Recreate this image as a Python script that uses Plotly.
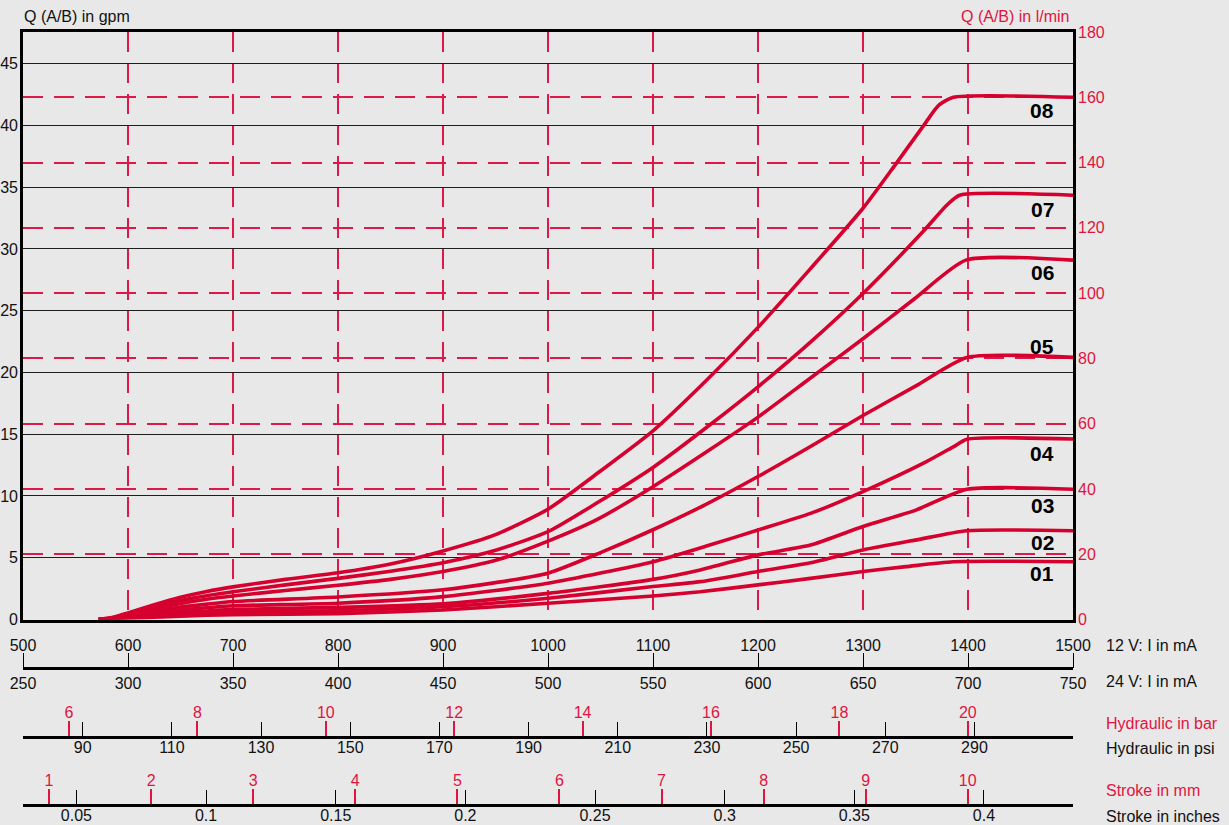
import plotly.graph_objects as go

# Canvas and margins (px)
W, H = 1229, 825
ML, MR, MT, MB = 23, 156, 32, 0

FONT = "Liberation Sans, Arial, Helvetica, sans-serif"
RED = "#d6002f"
RED_TXT = "#e0143f"
RED_GRID = "#de1848"
BG = "#e8e8e8"

# ---- flow curves: 12 V coil current (mA) vs flow Q (l/min) ----
i_01 = [572, 585, 600, 625, 650, 675, 700, 800, 900, 1000, 1100, 1145, 1200, 1250, 1300, 1341, 1386, 1500]
q_01 = [0, 0.1, 0.3, 0.7, 1.0, 1.3, 1.5, 1.8, 2.9, 5.0, 7.2, 8.5, 10.6, 12.6, 14.7, 16.2, 17.7, 17.7]

i_02 = [572, 585, 600, 625, 650, 675, 700, 800, 900, 1000, 1100, 1145, 1200, 1250, 1300, 1351, 1399, 1500]
q_02 = [0, 0.15, 0.5, 1.05, 1.6, 2.0, 2.3, 2.7, 3.9, 6.5, 10.1, 11.6, 14.7, 17.4, 21.3, 24.4, 27.2, 27.2]

i_03 = [572, 585, 600, 625, 650, 675, 700, 800, 900, 1000, 1100, 1145, 1200, 1250, 1300, 1351, 1399, 1500]
q_03 = [0, 0.2, 0.6, 1.4, 2.1, 2.6, 3.1, 3.7, 4.8, 8.0, 12.3, 15.2, 19.8, 22.8, 28.5, 33.6, 39.9, 39.9]

i_04 = [572, 585, 600, 625, 650, 675, 700, 800, 900, 1000, 1100, 1154, 1200, 1250, 1300, 1360, 1386, 1399, 1500]
q_04 = [0, 0.25, 0.85, 1.9, 2.9, 3.6, 4.2, 5.0, 7.0, 11.1, 17.7, 22.8, 27.4, 32.5, 39.2, 48.3, 52.9, 55.2, 55.3]

i_05 = [572, 585, 600, 625, 650, 675, 700, 800, 900, 950, 1000, 1050, 1100, 1150, 1200, 1250, 1300, 1350, 1399, 1500]
q_05 = [0, 0.3, 1.1, 2.5, 3.8, 4.7, 5.5, 6.9, 9.1, 11.3, 14.2, 20.5, 27.5, 35.2, 43.8, 53.0, 62.5, 71.5, 80.3, 80.3]

i_06 = [572, 585, 600, 625, 650, 675, 700, 750, 800, 850, 900, 951, 1000, 1046, 1100, 1154, 1200, 1250, 1300, 1350, 1398, 1500]
q_06 = [0, 0.4, 1.4, 3.2, 4.9, 6.2, 7.2, 8.9, 10.5, 12.3, 14.7, 18.2, 24.0, 30.5, 40.7, 52.0, 62.0, 74.0, 86.0, 98.5, 110.1, 110.1]

i_07 = [572, 585, 600, 625, 650, 675, 700, 750, 800, 850, 900, 951, 1000, 1046, 1100, 1154, 1200, 1250, 1300, 1357, 1380, 1392, 1500]
q_07 = [0, 0.5, 1.7, 3.8, 5.8, 7.3, 8.5, 10.6, 12.6, 14.8, 17.4, 21.3, 26.9, 35.6, 46.6, 59.6, 71.3, 85.0, 99.9, 118.8, 127.0, 130.0, 130.0]

i_08 = [572, 585, 600, 625, 650, 675, 700, 750, 800, 850, 900, 950, 1000, 1050, 1100, 1150, 1200, 1250, 1300, 1330, 1357, 1372, 1386, 1500]
q_08 = [0, 0.6, 2.0, 4.5, 6.8, 8.6, 10.0, 12.3, 14.3, 17.0, 21.0, 26.0, 33.8, 45.5, 57.8, 73.0, 89.5, 107.5, 126.0, 139.0, 151.0, 157.5, 160.0, 160.0]

curves = [
    ("01", i_01, q_01, -12),
    ("02", i_02, q_02, -12),
    ("03", i_03, q_03, -16),
    ("04", i_04, q_04, -14),
    ("05", i_05, q_05, 11),
    ("06", i_06, q_06, -12),
    ("07", i_07, q_07, -14),
    ("08", i_08, q_08, -13),
]

# ---- scales ----
i12_ticks = list(range(500, 1501, 100))      # 12 V current, mA
i24_ticks = list(range(250, 751, 50))        # 24 V current, mA
bar_ticks = list(range(6, 21, 2))            # hydraulic pilot, bar
psi_ticks = list(range(90, 291, 20))         # hydraulic pilot, psi
mm_ticks = list(range(1, 11))                # stroke, mm
inch_ticks = [0.05, 0.1, 0.15, 0.2, 0.25, 0.3, 0.35, 0.4]
inch_text = ["0.05", "0.1", "0.15", "0.2", "0.25", "0.3", "0.35", "0.4"]
gpm_ticks = list(range(0, 46, 5))
lpm_ticks = list(range(0, 181, 20))

PW = W - ML - MR
PH = H - MT - MB


def px_x(x):
    return (x - ML) / PW


def px_y(y):
    return (H - MB - y) / PH


fig = go.Figure()

for name, xs, ys, _ in curves:
    fig.add_trace(go.Scatter(
        x=xs, y=ys, mode="lines", name=name,
        line=dict(color=RED, width=3.6, shape="spline", smoothing=0.6),
        xaxis="x", yaxis="y2", hoverinfo="skip", showlegend=False,
    ))

# empty carriers so every scale axis gets drawn
scale_axes = {
    "x2": (500, 1500), "x3": (250, 750), "x4": (5.2835, 21.639),
    "x5": (76.61, 312.1), "x6": (0.745, 11.031), "x7": (0.02941, 0.43433),
}
for ax, rng in scale_axes.items():
    fig.add_trace(go.Scatter(x=list(rng), y=[None, None], mode="lines",
                             xaxis=ax, yaxis="y", hoverinfo="skip",
                             showlegend=False))
fig.add_trace(go.Scatter(x=[500, 1500], y=[None, None], mode="lines",
                         xaxis="x", yaxis="y", hoverinfo="skip",
                         showlegend=False))

plot_bottom = px_y(619.5)
pos_i = px_y(668.3)
pos_hyd = px_y(736.7)
pos_stroke = px_y(805.0)

black_font = dict(family=FONT, size=16, color="#111111")
red_font = dict(family=FONT, size=16, color=RED_TXT)

scale_common = dict(overlaying="x", anchor="free", showgrid=False,
                    zeroline=False, fixedrange=True)

fig.update_layout(
    width=W, height=H,
    margin=dict(l=ML, r=MR, t=MT, b=MB, autoexpand=False),
    paper_bgcolor=BG, plot_bgcolor=BG,
    font=dict(family=FONT, size=16, color="#111111"),
    showlegend=False,
    xaxis=dict(
        range=[500, 1500], tickvals=i12_ticks, showticklabels=False,
        ticks="", showgrid=True, gridcolor=RED_GRID, gridwidth=1.5,
        griddash="20px,11px", zeroline=False,
        showline=True, mirror=True, linecolor="#000000", linewidth=2.6,
        domain=[0, 1], fixedrange=True,
    ),
    yaxis=dict(
        range=[0, 47.56], tickvals=gpm_ticks, ticks="",
        showgrid=True, gridcolor="#1e1e1e", gridwidth=1.2, zeroline=False,
        showline=True, mirror=True, linecolor="#000000", linewidth=2.6,
        tickfont=black_font, ticklabelstandoff=-1,
        domain=[plot_bottom, 1], fixedrange=True,
    ),
    yaxis2=dict(
        range=[0, 180], tickvals=lpm_ticks, ticks="", overlaying="y",
        side="right", showgrid=True, gridcolor=RED_GRID, gridwidth=1.5,
        griddash="20px,11px", zeroline=False, showline=False,
        tickfont=red_font, ticklabelstandoff=4, fixedrange=True,
    ),
    # 12 V current scale (labels above) and 24 V current scale (labels below)
    xaxis2=dict(
        **scale_common, position=pos_i, side="top", range=[500, 1500],
        tickvals=i12_ticks, ticks="outside", ticklen=15, tickwidth=1.4,
        tickcolor="#000000", showline=True, linecolor="#000000",
        linewidth=2.6, tickfont=black_font, ticklabelstandoff=-5,
    ),
    xaxis3=dict(
        **scale_common, position=pos_i, side="bottom", range=[250, 750],
        tickvals=i24_ticks, ticks="", showline=False, tickfont=black_font,
        ticklabelstandoff=4,
    ),
    # hydraulic pilot pressure
    xaxis4=dict(
        **scale_common, position=pos_hyd, side="top", range=[5.2835, 21.639],
        tickvals=bar_ticks, ticks="outside", ticklen=15, tickwidth=1.6,
        tickcolor=RED_TXT, showline=True, linecolor="#000000",
        linewidth=2.6, tickfont=red_font, ticklabelstandoff=-3,
    ),
    xaxis5=dict(
        **scale_common, position=pos_hyd, side="bottom", range=[76.61, 312.1],
        tickvals=psi_ticks, ticks="inside", ticklen=15, tickwidth=1.4,
        tickcolor="#000000", showline=False, tickfont=black_font,
        ticklabelstandoff=-1,
    ),
    # spool stroke
    xaxis6=dict(
        **scale_common, position=pos_stroke, side="top", range=[0.745, 11.031],
        tickvals=mm_ticks, ticks="outside", ticklen=15, tickwidth=1.6,
        tickcolor=RED_TXT, showline=True, linecolor="#000000",
        linewidth=2.6, tickfont=red_font, ticklabelstandoff=-3,
    ),
    xaxis7=dict(
        **scale_common, position=pos_stroke, side="bottom",
        range=[0.02941, 0.43433], tickvals=inch_ticks, ticktext=inch_text,
        ticks="inside", ticklen=15, tickwidth=1.4, tickcolor="#000000",
        showline=False, tickfont=black_font, ticklabelstandoff=-1,
    ),
)

annotations = []
# curve labels at the right end of each plateau
for name, xs, ys, shift in curves:
    annotations.append(dict(
        text=f"<b>{name}</b>", xref="paper", x=px_x(1056), xanchor="right",
        yref="y2", y=ys[-1], yanchor="middle", yshift=shift,
        showarrow=False, font=dict(family=FONT, size=21, color="#000000"),
    ))

# axis titles
annotations.append(dict(text="Q (A/B) in gpm", xref="paper", yref="paper",
                        x=px_x(22), y=px_y(16), xanchor="left",
                        yanchor="middle", showarrow=False, font=black_font))
annotations.append(dict(text="Q (A/B) in l/min", xref="paper", yref="paper",
                        x=px_x(1071), y=px_y(16), xanchor="right",
                        yanchor="middle", showarrow=False, font=red_font))

scale_titles = [
    ("12 V: I in mA", 645, black_font),
    ("24 V: I in mA", 681, black_font),
    ("Hydraulic in bar", 723, red_font),
    ("Hydraulic in psi", 748, black_font),
    ("Stroke in mm", 790, red_font),
    ("Stroke in inches", 816, black_font),
]
for text, ypx, fnt in scale_titles:
    annotations.append(dict(text=text, xref="paper", yref="paper",
                            x=px_x(1104), y=px_y(ypx), xanchor="left",
                            yanchor="middle", showarrow=False, font=fnt))

fig.update_layout(annotations=annotations)

fig.write_html("out.html")
